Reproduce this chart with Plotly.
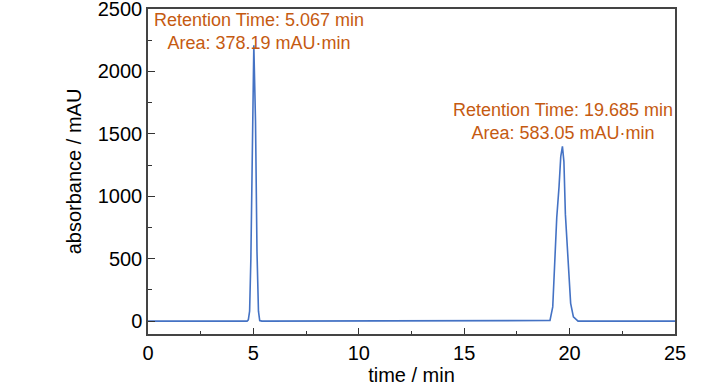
import plotly.graph_objects as go

# chromatogram data (time in min, absorbance in mAU)
time_min = [0.0, 4.70, 4.76, 4.82, 4.88, 4.95, 5.02, 5.10, 5.17, 5.24, 5.30, 5.40,
            19.00, 19.07, 19.20, 19.31, 19.39, 19.50, 19.58, 19.66, 19.73, 19.80,
            19.92, 20.05, 20.18, 20.40, 25.0]
absorbance = [0, 0, 10, 80, 500, 1250, 2210, 1600, 560, 80, 5, 0,
              0, 5, 114, 484, 828, 1079, 1317, 1400, 1278, 857,
              510, 143, 34, 0, 0]

x_ticks = [0, 5, 10, 15, 20, 25]
y_ticks = [0, 500, 1000, 1500, 2000, 2500]

label_x = [5.28, 19.69]
label_y = [2321, 1595]
peak_labels = ["Retention Time: 5.067 min<br>Area: 378.19 mAU·min",
               "Retention Time: 19.685 min<br>Area: 583.05 mAU·min"]

FONT = "Liberation Sans, Arial, sans-serif"

fig = go.Figure()
fig.add_trace(go.Scatter(x=time_min, y=absorbance, mode="lines",
                         line=dict(color="#4472C4", width=1.6), showlegend=False))

for t, lab, yy in zip(label_x, peak_labels, label_y):
    fig.add_annotation(x=t, y=yy, text=lab, showarrow=False, xanchor="center",
                       yanchor="middle", align="center",
                       font=dict(family=FONT, size=18, color="#C55A11"))

fig.update_xaxes(range=[0, 25], tickvals=x_ticks, ticks="inside", ticklen=6,
                 tickcolor="#333", showline=True, linecolor="#444", linewidth=1.5,
                 mirror=True, showgrid=False, zeroline=False, automargin=False,
                 ticklabeloverflow="allow",
                 minor=dict(dtick=2.5, ticks="inside", ticklen=3, tickcolor="#333"),
                 title=dict(text="time / min", standoff=4,
                            font=dict(family=FONT, size=20, color="black")),
                 tickfont=dict(family=FONT, size=20, color="black"))
fig.update_yaxes(range=[-103, 2500], tickvals=y_ticks, ticks="inside", ticklen=7,
                 tickcolor="#333", showline=True, linecolor="#444", linewidth=1.5,
                 mirror=True, showgrid=False, zeroline=False, automargin=False,
                 ticklabeloverflow="allow",
                 minor=dict(dtick=250, ticks="inside", ticklen=4, tickcolor="#333"),
                 title=dict(text="absorbance / mAU", standoff=11,
                            font=dict(family=FONT, size=20, color="black")),
                 tickfont=dict(family=FONT, size=20, color="black"))

fig.update_layout(width=728, height=390, plot_bgcolor="white", paper_bgcolor="white",
                  margin=dict(l=148, r=53, t=9, b=56), font=dict(family=FONT))

fig.write_html("out.html", config={"displayModeBar": False},
               post_script="document.body.style.margin='0';document.body.style.overflow='hidden';")
